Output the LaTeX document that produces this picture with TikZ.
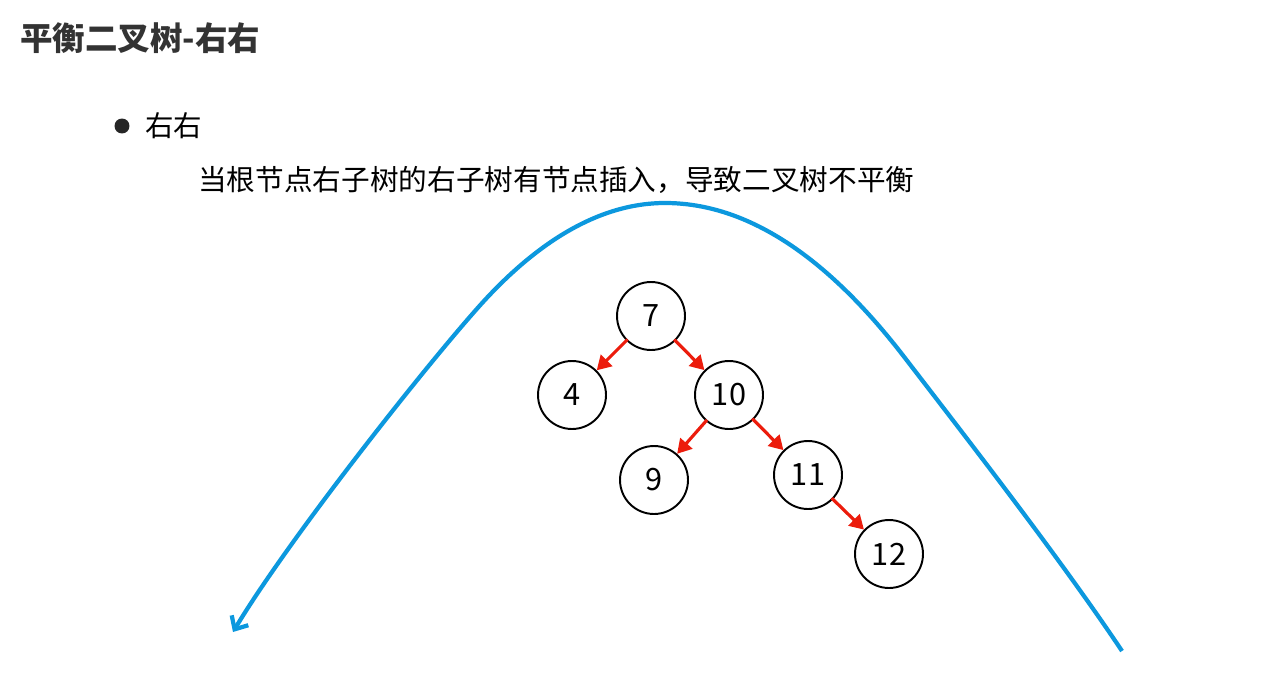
\documentclass[tikz,border=0pt]{standalone}
\usepackage{fontspec}
\setmainfont{Noto Sans CJK SC}
\usetikzlibrary{arrows.meta}
\definecolor{curveblue}{RGB}{12,152,222}
\definecolor{edgered}{RGB}{236,28,12}
\definecolor{titlegray}{RGB}{51,51,51}

\begin{document}
\begin{tikzpicture}[x=0.02cm, y=-0.02cm,
		tnode/.style={circle, draw=black, line width=1.1pt, minimum size=1.36cm, inner sep=0pt, font=\fontsize{17.5}{20}\selectfont},
		tedge/.style={draw=edgered, line width=1.8pt, -{Triangle[length=8pt, width=9pt]}, shorten <=-1pt}]
			%%%%% START %%%%%
			\useasboundingbox[fill=white] (0, 0) rectangle (1265, 696);
			
			\node[anchor=west, inner sep=0pt, text=titlegray, font=\fontsize{18.5}{22}\selectfont\bfseries] (title) at (20, 38) {平衡二叉树-右右};
			
			\node[circle, fill=black!85, inner sep=0pt, minimum size=0.3cm] (bullet) at (122, 126) {};
			\node[anchor=west, inner sep=0pt, font=\fontsize{16.2}{20}\selectfont] (case) at (145, 126) {右右};
			\node[anchor=west, inner sep=0pt, font=\fontsize{16.3}{20}\selectfont] (desc) at (198, 180) {当根节点右子树的右子树有节点插入，导致二叉树不平衡};
			
			\node[tnode] (n7) at (651, 316) {7};
			\node[tnode] (n4) at (572, 395) {4};
			\node[tnode] (n10) at (729, 395) {10};
			\node[tnode] (n9) at (654, 480) {9};
			\node[tnode] (n11) at (808, 475) {11};
			\node[tnode] (n12) at (889, 554) {12};
			
			\draw[tedge] (n7) -- (n4);
			\draw[tedge] (n7) -- (n10);
			\draw[tedge] (n10) -- (n9);
			\draw[tedge] (n10) -- (n11);
			\draw[tedge] (n11) -- (n12);
			
			\coordinate (curvestart) at (1122, 651);
			\coordinate (curvetop) at (665, 203);
			\coordinate (curveend) at (233, 632);
			\draw[curveblue, line width=2.4pt, -{Straight Barb[length=6pt, width=11pt, line width=2.4pt]}]
				(curvestart) .. controls (1062, 561) and (965, 436) .. (905, 358)
				.. controls (826, 255) and (746, 203) .. (curvetop)
				.. controls (602, 203) and (538, 239) .. (475, 311)
				.. controls (415, 379) and (285, 545) .. (curveend);
			%%%%% END %%%%%
\end{tikzpicture}
\end{document}
